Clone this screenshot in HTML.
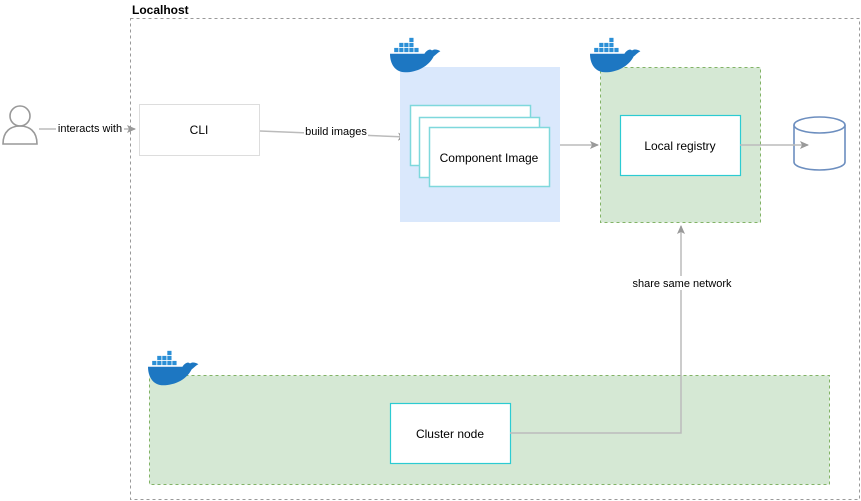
<!DOCTYPE html>
<html><head><meta charset="utf-8"><style>
html,body{margin:0;padding:0;background:#fff}
svg{display:block;font-family:"Liberation Sans",Arial,sans-serif}
</style></head><body>
<svg width="861" height="501" viewBox="0 0 861 501" xmlns="http://www.w3.org/2000/svg">
<defs>
<g id="whale">
  <path d="M0,20 L41,20 C44,15 48,14 50,16 C53,14 57,15 60,17 C56,19 54,22 52,23 C46,35 32,42 18,42 C6,42 0,32 0,20 Z" fill="#1d77c2"/>
  <g fill="#2b8fd6">
    <rect x="5" y="13" width="5" height="5"/><rect x="11" y="13" width="5" height="5"/><rect x="17" y="13" width="5" height="5"/><rect x="23" y="13" width="5" height="5"/><rect x="29" y="13" width="5" height="5"/>
    <rect x="11" y="7" width="5" height="5"/><rect x="17" y="7" width="5" height="5"/><rect x="23" y="7" width="5" height="5"/>
    <rect x="23" y="1" width="5" height="5"/>
  </g>
</g>
<marker id="ah" markerWidth="10" markerHeight="10" refX="8" refY="5" orient="auto" markerUnits="userSpaceOnUse">
  <path d="M0,1 L9,5 L0,9 L2,5 Z" fill="#999"/>
</marker>
</defs>

<rect x="130.5" y="18.5" width="729" height="481" fill="none" stroke="#999" stroke-dasharray="3,3"/>
<text x="132" y="14" font-size="12" font-weight="bold" fill="#000">Localhost</text>

<circle cx="20" cy="116" r="10" fill="none" stroke="#999" stroke-width="1.6"/>
<path d="M3,144 C3,131 11,126 20,126 C29,126 37,131 37,144 Z" fill="none" stroke="#999" stroke-width="1.6"/>

<line x1="39" y1="129" x2="135" y2="129" stroke="#bbb" stroke-width="1.5" marker-end="url(#ah)"/>
<rect x="56" y="122" width="68" height="14" fill="#fff"/>
<text x="90" y="132" font-size="11" text-anchor="middle">interacts with</text>

<rect x="139.5" y="104.5" width="120" height="51" fill="#fff" stroke="#ddd"/>
<text x="199" y="134" font-size="12" text-anchor="middle">CLI</text>

<line x1="260" y1="131" x2="406" y2="137" stroke="#bbb" stroke-width="1.5" marker-end="url(#ah)"/>
<rect x="304" y="125" width="64" height="14" fill="#fff"/>
<text x="336" y="135" font-size="11" text-anchor="middle">build images</text>

<rect x="400" y="67" width="160" height="155" fill="#dae8fc"/>
<rect x="410.5" y="105.5" width="120" height="60" fill="#fff" stroke="#7fd8dc" stroke-width="1.5"/>
<rect x="419.5" y="117.5" width="120" height="60" fill="#fff" stroke="#7fd8dc" stroke-width="1.5"/>
<rect x="429.5" y="127.5" width="120" height="59" fill="#fff" stroke="#7fd8dc" stroke-width="1.5"/>
<text x="489" y="162" font-size="12" text-anchor="middle">Component Image</text>

<line x1="560" y1="145" x2="598" y2="145" stroke="#bbb" stroke-width="1.5" marker-end="url(#ah)"/>

<rect x="600.5" y="67.5" width="160" height="155" fill="#d5e8d4" stroke="#82b366" stroke-dasharray="3,3"/>
<rect x="620.5" y="115.5" width="120" height="60" fill="#fff" stroke="#2ccbd2" stroke-width="1.2"/>
<text x="680" y="150" font-size="12" text-anchor="middle">Local registry</text>

<path d="M794,125 L794,162 A25.5,8 0 0 0 845,162 L845,125" fill="#fff" stroke="#6c8ebf" stroke-width="1.6"/>
<ellipse cx="819.5" cy="125" rx="25.5" ry="8" fill="#fff" stroke="#6c8ebf" stroke-width="1.6"/>
<line x1="740" y1="145" x2="808" y2="145" stroke="#bbb" stroke-width="1.5" marker-end="url(#ah)"/>

<rect x="149.5" y="375.5" width="680" height="109" fill="#d5e8d4" stroke="#82b366" stroke-dasharray="3,3"/>
<rect x="390.5" y="403.5" width="120" height="60" fill="#fff" stroke="#2ccbd2" stroke-width="1.2"/>
<text x="450" y="438" font-size="12" text-anchor="middle">Cluster node</text>

<polyline points="510,433 681,433 681,226" fill="none" stroke="#bbb" stroke-width="1.5" marker-end="url(#ah)"/>
<rect x="630" y="276" width="104" height="14" fill="#fff"/>
<text x="682" y="287" font-size="11" text-anchor="middle">share same network</text>

<use href="#whale" transform="translate(390,37) scale(0.84)"/>
<use href="#whale" transform="translate(590,37) scale(0.84)"/>
<use href="#whale" transform="translate(148,350) scale(0.84)"/>
</svg>
</body></html>
